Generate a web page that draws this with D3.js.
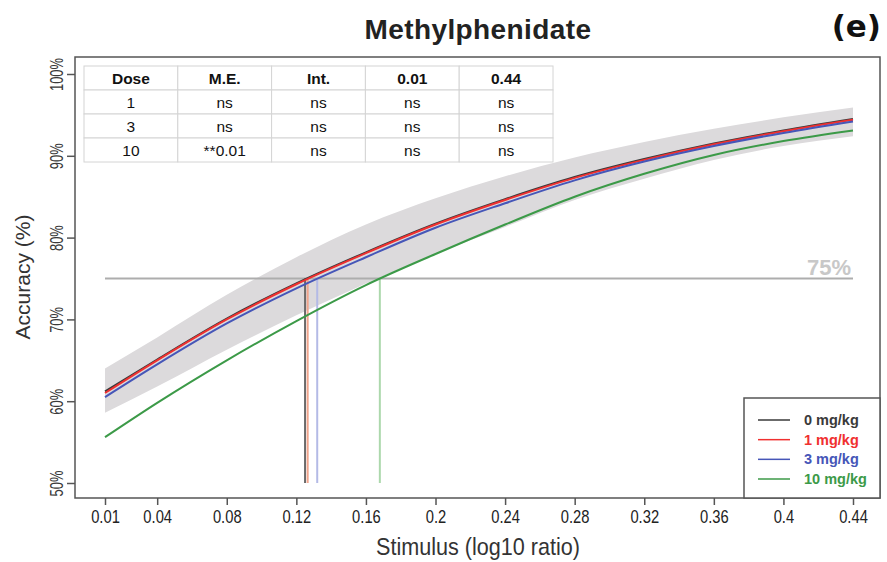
<!DOCTYPE html>
<html>
<head>
<meta charset="utf-8">
<script src="https://cdn.jsdelivr.net/npm/d3@7"></script>
<style>
  body { margin: 0; background: #fff; }
  svg { font-family: "Liberation Sans", Arial, sans-serif; }
</style>
</head>
<body>
<svg id="chart" width="887" height="562"></svg>
<script>
// stimulus values (log10 ratio) where curves were read
const stim = [0.01, 0.04, 0.08, 0.12, 0.16, 0.2, 0.24, 0.28, 0.32, 0.36, 0.4, 0.44];
const xTicks = [0.01, 0.04, 0.08, 0.12, 0.16, 0.2, 0.24, 0.28, 0.32, 0.36, 0.4, 0.44];
const yTicks = [50, 60, 70, 80, 90, 100];

const acc0  = [61.2, 65.1, 70.1, 74.4, 78.2, 81.7, 84.7, 87.4, 89.6, 91.5, 93.1, 94.5];
const acc1  = [61.0, 65.0, 70.0, 74.3, 78.1, 81.6, 84.6, 87.3, 89.5, 91.4, 93.0, 94.4];
const acc3  = [60.5, 64.5, 69.5, 73.8, 77.6, 81.2, 84.2, 87.0, 89.3, 91.2, 92.8, 94.2];
const acc10 = [55.6, 59.8, 65.0, 69.8, 74.2, 78.0, 81.6, 85.0, 87.8, 90.1, 91.8, 93.1];
const ciUpper = [64.0, 67.8, 73.0, 77.6, 81.6, 84.8, 87.5, 89.8, 91.7, 93.3, 94.7, 95.9];
const ciLower = [58.6, 61.8, 66.3, 70.5, 74.4, 78.0, 81.3, 84.6, 87.2, 89.5, 91.2, 92.4];

const doses = ["0 mg/kg", "1 mg/kg", "3 mg/kg", "10 mg/kg"];
const threshold75 = [0.125, 0.1265, 0.132, 0.168];   // stimulus at 75% accuracy
const lineColors = ["#3a3a3a", "#f03030", "#4656b8", "#3c9a48"];
const dropColors = ["#6a6a6a", "#f0a48c", "#b4bae6", "#acd8ac"];

const tableHead = ["Dose", "M.E.", "Int.", "0.01", "0.44"];
const tableRows = [
  ["1", "ns", "ns", "ns", "ns"],
  ["3", "ns", "ns", "ns", "ns"],
  ["10", "**0.01", "ns", "ns", "ns"]
];

const series = [acc0, acc1, acc3, acc10];

const frame = { left: 75, top: 57, right: 880, bottom: 498 };

const svg = d3.select("#chart");

const x = d3.scaleLinear().domain([0.01, 0.44]).range([105, 853]);
const y = d3.scaleLinear().domain([50, 100]).range([483, 74]);

// title
svg.append("text")
  .attr("x", 478).attr("y", 39)
  .attr("text-anchor", "middle")
  .attr("font-weight", "bold")
  .attr("font-size", 28)
  .attr("letter-spacing", 0.4)
  .attr("fill", "#222")
  .text("Methylphenidate");

svg.append("text")
  .attr("x", 881).attr("y", 37)
  .attr("text-anchor", "end")
  .attr("font-family", "'DejaVu Sans', sans-serif")
  .attr("font-weight", "bold")
  .attr("font-size", 31)
  .attr("fill", "#111")
  .text("(e)");

// CI band for control
const band = d3.area()
  .x((d, i) => x(stim[i]))
  .y0((d, i) => y(ciLower[i]))
  .y1((d, i) => y(ciUpper[i]))
  .curve(d3.curveMonotoneX);

svg.append("path")
  .datum(stim)
  .attr("d", band)
  .attr("fill", "#dcdadc");

// 75% reference line
svg.append("line")
  .attr("x1", x(0.01)).attr("x2", x(0.44))
  .attr("y1", y(75)).attr("y2", y(75))
  .attr("stroke", "#adadad")
  .attr("stroke-width", 2);

svg.append("text")
  .attr("x", x(0.44) - 2).attr("y", y(75) - 4)
  .attr("text-anchor", "end")
  .attr("font-weight", "bold")
  .attr("font-size", 22)
  .attr("fill", "#c8c8c8")
  .text("75%");

// drop lines at threshold
svg.selectAll(".drop")
  .data(threshold75)
  .join("line")
  .attr("class", "drop")
  .attr("x1", d => x(d)).attr("x2", d => x(d))
  .attr("y1", y(75)).attr("y2", y(50))
  .attr("stroke", (d, i) => dropColors[i])
  .attr("stroke-width", 2);

// curves
const line = d3.line()
  .x((d, i) => x(stim[i]))
  .y(d => y(d))
  .curve(d3.curveMonotoneX);

svg.selectAll(".curve")
  .data(series)
  .join("path")
  .attr("class", "curve")
  .attr("d", line)
  .attr("fill", "none")
  .attr("stroke", (d, i) => lineColors[i])
  .attr("stroke-width", 2);

// table
const tbl = { x: 84, y: 66, colW: 93.8, rowH: 24 };
const tg = svg.append("g");
const allRows = [tableHead].concat(tableRows);
allRows.forEach((row, r) => {
  row.forEach((cell, c) => {
    tg.append("rect")
      .attr("x", tbl.x + c * tbl.colW).attr("y", tbl.y + r * tbl.rowH)
      .attr("width", tbl.colW).attr("height", tbl.rowH)
      .attr("fill", "#fff")
      .attr("stroke", "#d4d4d4")
      .attr("stroke-width", 1);
    tg.append("text")
      .attr("x", tbl.x + c * tbl.colW + tbl.colW / 2)
      .attr("y", tbl.y + r * tbl.rowH + tbl.rowH / 2 + 5.5)
      .attr("text-anchor", "middle")
      .attr("font-size", 15.5)
      .attr("font-weight", r === 0 ? "bold" : "normal")
      .attr("fill", "#111")
      .text(cell);
  });
});

// frame
svg.append("rect")
  .attr("x", frame.left).attr("y", frame.top)
  .attr("width", frame.right - frame.left).attr("height", frame.bottom - frame.top)
  .attr("fill", "none")
  .attr("stroke", "#555")
  .attr("stroke-width", 1.5);

// y axis
const yAxis = svg.append("g")
  .attr("transform", `translate(${frame.left},0)`)
  .call(d3.axisLeft(y).tickValues(yTicks).tickSize(8).tickFormat(d => d + "%"));
yAxis.select(".domain").remove();
yAxis.selectAll(".tick line").attr("stroke", "#555").attr("stroke-width", 1.5);
yAxis.selectAll(".tick text")
  .attr("font-size", 18)
  .attr("fill", "#3a3a3a")
  .attr("text-anchor", "middle")
  .attr("transform", "rotate(-90) scale(0.72,1)")
  .attr("x", 0).attr("dx", null)
  .attr("y", -12).attr("dy", null);

// x axis
const xAxis = svg.append("g")
  .attr("transform", `translate(0,${frame.bottom})`)
  .call(d3.axisBottom(x).tickValues(xTicks).tickSize(7).tickFormat(d3.format("~g")));
xAxis.select(".domain").remove();
xAxis.selectAll(".tick line").attr("stroke", "#555").attr("stroke-width", 1.5);
xAxis.selectAll(".tick text")
  .attr("font-size", 18)
  .attr("fill", "#222")
  .attr("transform", "scale(0.82,1)")
  .attr("y", 12).attr("dy", "0.71em");

// axis titles
svg.append("text")
  .attr("transform", "translate(478,555) scale(0.9,1)")
  .attr("text-anchor", "middle")
  .attr("font-size", 24)
  .attr("fill", "#333")
  .text("Stimulus (log10 ratio)");

svg.append("text")
  .attr("transform", "translate(30,277) rotate(-90)")
  .attr("text-anchor", "middle")
  .attr("font-size", 21)
  .attr("fill", "#333")
  .text("Accuracy (%)");

// legend
const lg = svg.append("g");
lg.append("rect")
  .attr("x", 744).attr("y", 398)
  .attr("width", frame.right - 744).attr("height", frame.bottom - 398)
  .attr("fill", "#fff")
  .attr("stroke", "#555")
  .attr("stroke-width", 1.5);

const ly = d3.scalePoint().domain(doses).range([420, 479]);
doses.forEach((d, i) => {
  lg.append("line")
    .attr("x1", 758).attr("x2", 790)
    .attr("y1", ly(d)).attr("y2", ly(d))
    .attr("stroke", lineColors[i])
    .attr("stroke-width", 1.5);
  lg.append("text")
    .attr("x", 804).attr("y", ly(d) + 5)
    .attr("font-size", 14.5)
    .attr("font-weight", "bold")
    .attr("fill", lineColors[i])
    .text(d);
});
</script>
</body>
</html>
